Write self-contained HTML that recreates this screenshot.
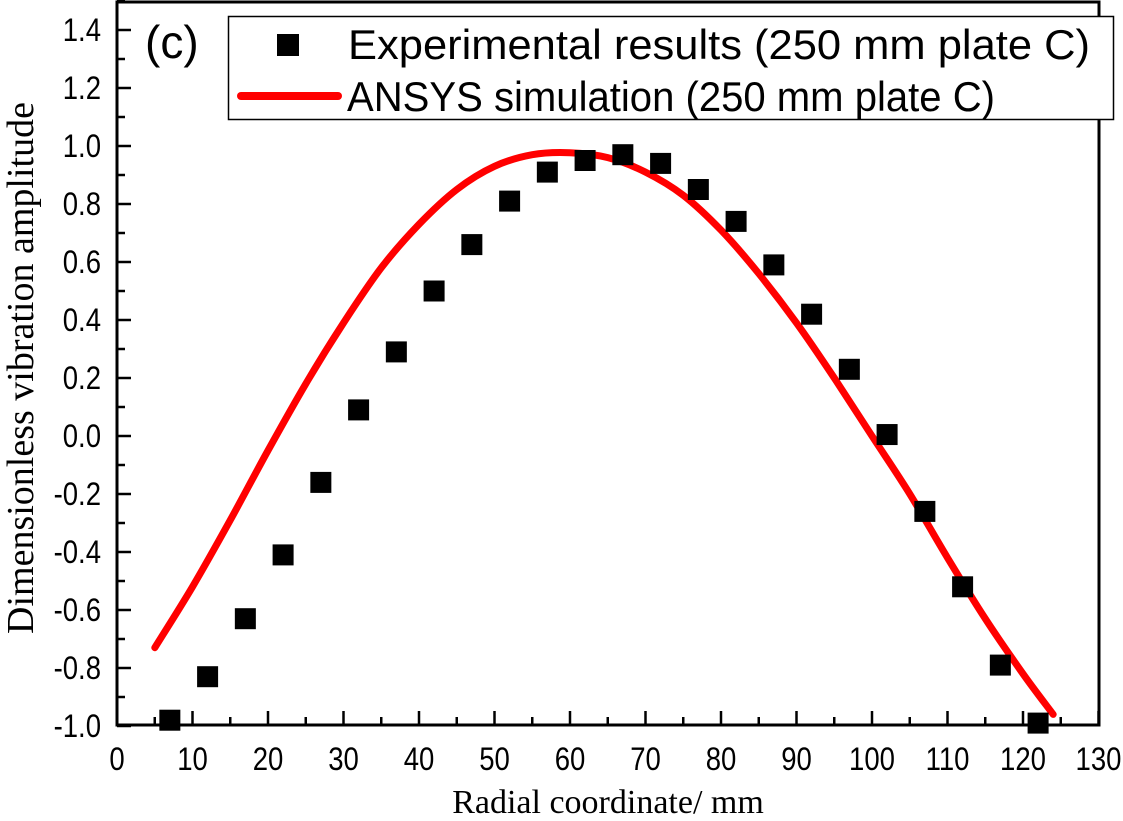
<!DOCTYPE html>
<html><head><meta charset="utf-8"><style>
html,body{margin:0;padding:0;background:#fff;}
svg{display:block;}
</style></head><body>
<svg id="chart" width="1123" height="821" xmlns="http://www.w3.org/2000/svg">
<g id="axes"></g>
<g id="series"></g>
<text x="608" y="813" text-anchor="middle" font-family="Liberation Serif, serif" font-size="34px">Radial coordinate/ mm</text>
<text transform="translate(33,368) rotate(-90)" text-anchor="middle" font-family="Liberation Serif, serif" font-size="38px">Dimensionless vibration amplitude</text>
<text x="145" y="58" font-family="Liberation Sans, sans-serif" font-size="46px">(c)</text>
<g>
<rect x="228.5" y="16.5" width="885" height="103" fill="#fff" stroke="#000" stroke-width="1.5"/>
<rect x="277" y="34" width="22" height="22" fill="#000"/>
<text x="348" y="59" font-family="Liberation Sans, sans-serif" font-size="42px" textLength="742" lengthAdjust="spacingAndGlyphs">Experimental results (250 mm plate C)</text>
<line x1="241" y1="96" x2="338" y2="96" stroke="#f00" stroke-width="8" stroke-linecap="round"/>
<text x="347" y="111" font-family="Liberation Sans, sans-serif" font-size="42px" textLength="648" lengthAdjust="spacingAndGlyphs">ANSYS simulation (250 mm plate C)</text>
</g>
</svg>
<script>
const expX=[7,12,17,22,27,32,37,42,47,52,57,62,67,72,77,82,87,92,97,102,107,112,117,122];
const expY=[-0.98,-0.83,-0.63,-0.41,-0.16,0.09,0.29,0.50,0.66,0.81,0.91,0.95,0.97,0.94,0.85,0.74,0.59,0.42,0.23,0.005,-0.26,-0.52,-0.79,-0.99];
const simX=[5,10,15,20,25,30,35,40,45,50,55,60,65,70,75,80,85,90,95,100,105,110,115,120,124];
const simY=[-0.73,-0.52,-0.29,-0.05,0.18,0.39,0.58,0.73,0.85,0.93,0.97,0.977,0.96,0.91,0.83,0.71,0.56,0.39,0.20,0.0,-0.20,-0.42,-0.63,-0.82,-0.96];
const xTicks=[0,10,20,30,40,50,60,70,80,90,100,110,120,130];
const yTicks=[-1.0,-0.8,-0.6,-0.4,-0.2,0.0,0.2,0.4,0.6,0.8,1.0,1.2,1.4];
const NS="http://www.w3.org/2000/svg";
const X0=117,PXX=7.55,Y1=146,PXY=290;
function sx(v){return X0+v*PXX;}
function sy(v){return Y1-(v-1)*PXY;}
const L=117,R=1099,T=2,B=725;
const ax=document.getElementById('axes'),se=document.getElementById('series');
function mk(tag,a,p){const e=document.createElementNS(NS,tag);for(const k in a)e.setAttribute(k,a[k]);p.appendChild(e);return e;}
const frame=mk('rect',{x:L,y:T,width:R-L,height:B-T,fill:'none',stroke:'#000','stroke-width':3},ax);


for(let v=0;v<=130;v+=5){const major=v%10===0;const x=sx(v);
 const t=mk('line',{x1:x,x2:x,y1:B,y2:B-(major?14:8),stroke:'#000','stroke-width':2.5},ax);
 
 }
xTicks.forEach(v=>{const t=mk('text',{transform:'translate('+sx(v)+','+(B+45)+') scale(0.86,1)','text-anchor':'middle','font-family':'Liberation Sans, sans-serif','font-size':'32px'},ax);t.textContent=v;
 
 });
for(let i=-10;i<=15;i++){const v=i/10;const major=i%2===0;const y=sy(v);
 const t=mk('line',{x1:L,x2:L+(major?14:8),y1:y,y2:y,stroke:'#000','stroke-width':2.5},ax);
 
 }
yTicks.forEach(v=>{const t=mk('text',{transform:'translate('+(L-16)+','+(sy(v)+11)+') scale(0.86,1)','text-anchor':'end','font-family':'Liberation Sans, sans-serif','font-size':'32px'},ax);t.textContent=v.toFixed(1);
 
 });
const pts=simX.map((v,i)=>[sx(v),sy(simY[i])]);
let d='M'+pts[0][0].toFixed(1)+' '+pts[0][1].toFixed(1);
for(let i=0;i<pts.length-1;i++){const p0=pts[Math.max(0,i-1)],p1=pts[i],p2=pts[i+1],p3=pts[Math.min(pts.length-1,i+2)];
 const c1=[p1[0]+(p2[0]-p0[0])/6,p1[1]+(p2[1]-p0[1])/6],c2=[p2[0]-(p3[0]-p1[0])/6,p2[1]-(p3[1]-p1[1])/6];
 d+='C'+c1[0].toFixed(1)+' '+c1[1].toFixed(1)+' '+c2[0].toFixed(1)+' '+c2[1].toFixed(1)+' '+p2[0].toFixed(1)+' '+p2[1].toFixed(1);}
const p=mk('path',{d:d,fill:'none',stroke:'#f00','stroke-width':7,'stroke-linecap':'round','stroke-linejoin':'round'},se);


expX.forEach((v,i)=>{const r=mk('rect',{x:sx(v)-10.5,y:sy(expY[i])-10.5,width:21,height:21,fill:'#000'},se);
 
 });
</script>
</body></html>
